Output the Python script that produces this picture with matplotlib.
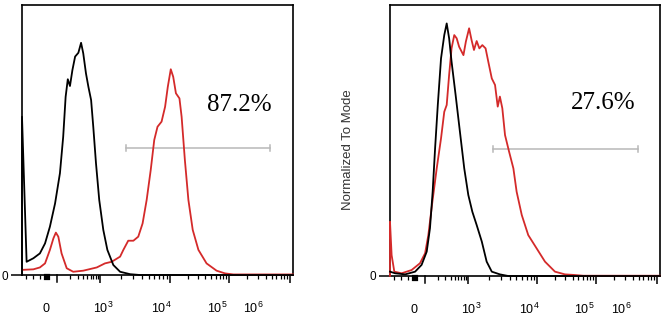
import numpy as np
import matplotlib
matplotlib.use("Agg")
import matplotlib.pyplot as plt
from matplotlib import transforms

plt.rcParams['font.family'] = ['Liberation Sans', 'DejaVu Sans']
plt.rcParams['mathtext.fontset'] = 'custom'
plt.rcParams['mathtext.rm'] = 'Liberation Sans'

# ---- data (channel position 0..100, normalized count 0..100) ----
left_black_x = [0, 0, 1.7, 4.2, 6.6, 8.5, 10.3, 12.2, 14.0, 15.2, 16.1, 16.9, 17.7, 18.6,
                19.6, 20.8, 21.8, 22.6, 23.6, 24.5, 25.5, 26.3, 27.3, 28.5, 30.0, 31.5,
                33.7, 36.2, 39.9, 43.5, 100]
left_black_y = [0, 58.6, 4.9, 6.2, 8.0, 11.7, 17.9, 26.5, 37.7, 51.2, 66.0, 72.5, 70.0, 75.9,
                80.9, 82.3, 86.0, 82.1, 74.7, 69.7, 64.8, 54.9, 41.4, 27.8, 16.7, 9.3,
                3.7, 1.2, 0.3, 0, 0]

left_red_x = [0, 4.2, 6.6, 8.5, 10.3, 11.6, 12.5, 13.4, 14.6, 16.5, 18.9, 22.6, 27.6, 30.6,
              33.1, 36.2, 37.4, 39.2, 41.1, 42.9, 44.5, 46.0, 47.5, 48.8, 50.0, 51.5, 52.8,
              53.8, 54.9, 55.8, 56.8, 58.1, 58.9, 60.1, 61.4, 63.0, 65.1, 68.1, 71.8, 74.9,
              78.0, 100]
left_red_y = [1.9, 2.1, 2.8, 4.3, 9.3, 13.6, 15.7, 14.2, 8.0, 2.5, 1.2, 1.6, 2.8, 4.3,
              4.9, 6.8, 9.3, 12.7, 12.7, 14.2, 19.1, 27.8, 38.9, 50.0, 54.9, 56.8, 62.3,
              69.7, 76.2, 73.4, 67.3, 65.4, 58.6, 42.6, 27.8, 16.7, 9.3, 4.3, 1.6, 0.6,
              0.2, 0.2]

right_black_x = [0, 1.9, 5.6, 9.3, 11.7, 13.6, 14.8, 15.8, 16.7, 17.7, 18.9, 20.1, 21.0,
                 21.9, 22.8, 24.3, 25.9, 27.5, 29.0, 30.5, 32.1, 34.0, 35.8, 37.7, 40.7,
                 43.8, 100]
right_black_y = [1.6, 1.0, 0.6, 1.6, 4.1, 9.0, 17.6, 31.1, 47.1, 63.1, 80.3, 88.9, 93.2,
                 87.7, 79.1, 66.8, 53.2, 39.7, 29.9, 23.7, 18.8, 12.7, 5.3, 1.6, 0.6,
                 0, 0]

right_red_x = [0, 0, 0.6, 1.6, 4.3, 8.0, 11.1, 13.0, 14.2, 15.7, 17.3, 18.9, 20.1, 21.0,
               21.9, 22.8, 23.8, 24.7, 25.6, 27.2, 28.1, 29.3, 30.2, 31.1, 32.1, 33.1,
               34.2, 35.4, 36.4, 37.7, 38.9, 39.9, 40.7, 41.6, 42.6, 44.1, 45.7, 46.9,
               48.8, 51.2, 54.3, 57.4, 61.1, 64.8, 68.0, 71.6, 100]
right_red_y = [0, 20.0, 7.7, 1.6, 1.0, 2.2, 4.7, 8.4, 15.1, 27.4, 39.7, 50.8, 60.6, 63.1,
               74.2, 84.0, 88.9, 87.7, 84.6, 81.5, 86.5, 91.4, 87.1, 83.4, 86.7, 84.0,
               85.2, 84.0, 79.1, 72.9, 70.5, 62.5, 66.2, 61.9, 52.0, 45.9, 39.7, 31.1,
               22.5, 15.1, 10.2, 5.3, 1.6, 0.6, 0.4, 0.1, 0.1]

gate_y = [47.0, 46.7]
gate_x0 = [38.4, 38.3]
gate_x1 = [91.6, 92.0]
pct_labels = ['87.2%', '27.6%']
pct_x = [80.3, 78.8]
pct_y = [63.0, 63.7]

tick_labels = ['0', r'$10^3$', r'$10^4$', r'$10^5$', r'$10^6$']
tick_label_x = [9.0, 30.0, 51.5, 72.0, 85.5]

# axis decorations
decade_pos = [13.0, 28.8, 54.6, 76.3, 98.9]
neg_ticks = [1.5, 4.0, 6.5]
zero_ticks = [8.6, 9.3, 10.0]

RED = '#d42a2a'


def draw_panel(ax, bx, by, rx, ry, i):
    ax.plot(rx, ry, color=RED, lw=1.3, clip_on=False, zorder=3, solid_joinstyle='round')
    ax.plot(bx, by, color='black', lw=1.3, clip_on=False, zorder=4, solid_joinstyle='round')
    ax.set_xlim(0, 100)
    ax.set_ylim(0, 100)

    # gate bar
    ax.plot([gate_x0[i], gate_x1[i]], [gate_y[i], gate_y[i]], color='#b8b8b8', lw=1.1)
    for gx in (gate_x0[i], gate_x1[i]):
        ax.plot([gx, gx], [gate_y[i] - 1.1, gate_y[i] + 1.1], color='#b8b8b8', lw=1.1)
    ax.text(pct_x[i], pct_y[i], pct_labels[i], family='Liberation Serif', fontsize=18,
            ha='center', va='center')

    for s in ax.spines.values():
        s.set_linewidth(1.2)

    # ticks: majors at decades, minors log-spaced in between
    minors = list(neg_ticks)
    for a, b in zip(decade_pos[:-1], decade_pos[1:]):
        minors += [a + (b - a) * np.log10(k) for k in range(2, 10)]
    ax.set_xticks(decade_pos[1:])
    ax.set_xticks(minors, minor=True)
    ax.tick_params(axis='x', which='major', length=6, width=1.1, direction='out',
                   labelbottom=False)
    ax.tick_params(axis='x', which='minor', length=3, width=0.9, direction='out')
    for z in zero_ticks:
        ax.plot([z, z], [0, -1.6], color='black', lw=1.6, clip_on=False)
    ax.plot([13.0, 13.0], [0, -2.6], color='black', lw=1.1, clip_on=False)

    ax.set_yticks([0])
    ax.set_yticklabels(['0'])
    ax.tick_params(axis='y', length=8, width=1.1, pad=2, labelsize=8.5)

    tr = transforms.blended_transform_factory(ax.transData, ax.transAxes)
    for lx, lab in zip(tick_label_x, tick_labels):
        ax.text(lx, -0.125, lab, transform=tr, ha='center', va='center', fontsize=9)


fig = plt.figure(figsize=(6.64, 3.19), dpi=100)
ax1 = fig.add_axes([22 / 664, 1 - 275 / 319, 271 / 664, 270 / 319])
ax2 = fig.add_axes([390 / 664, 1 - 276 / 319, 270 / 664, 271 / 319])

draw_panel(ax1, left_black_x, left_black_y, left_red_x, left_red_y, 0)
draw_panel(ax2, right_black_x, right_black_y, right_red_x, right_red_y, 1)

fig.text(348 / 664, 1 - 150 / 319, 'Normalized To Mode', rotation=90, ha='center',
         va='center', fontsize=9.5, color='#333333')

fig.savefig('out.png', dpi=100)
